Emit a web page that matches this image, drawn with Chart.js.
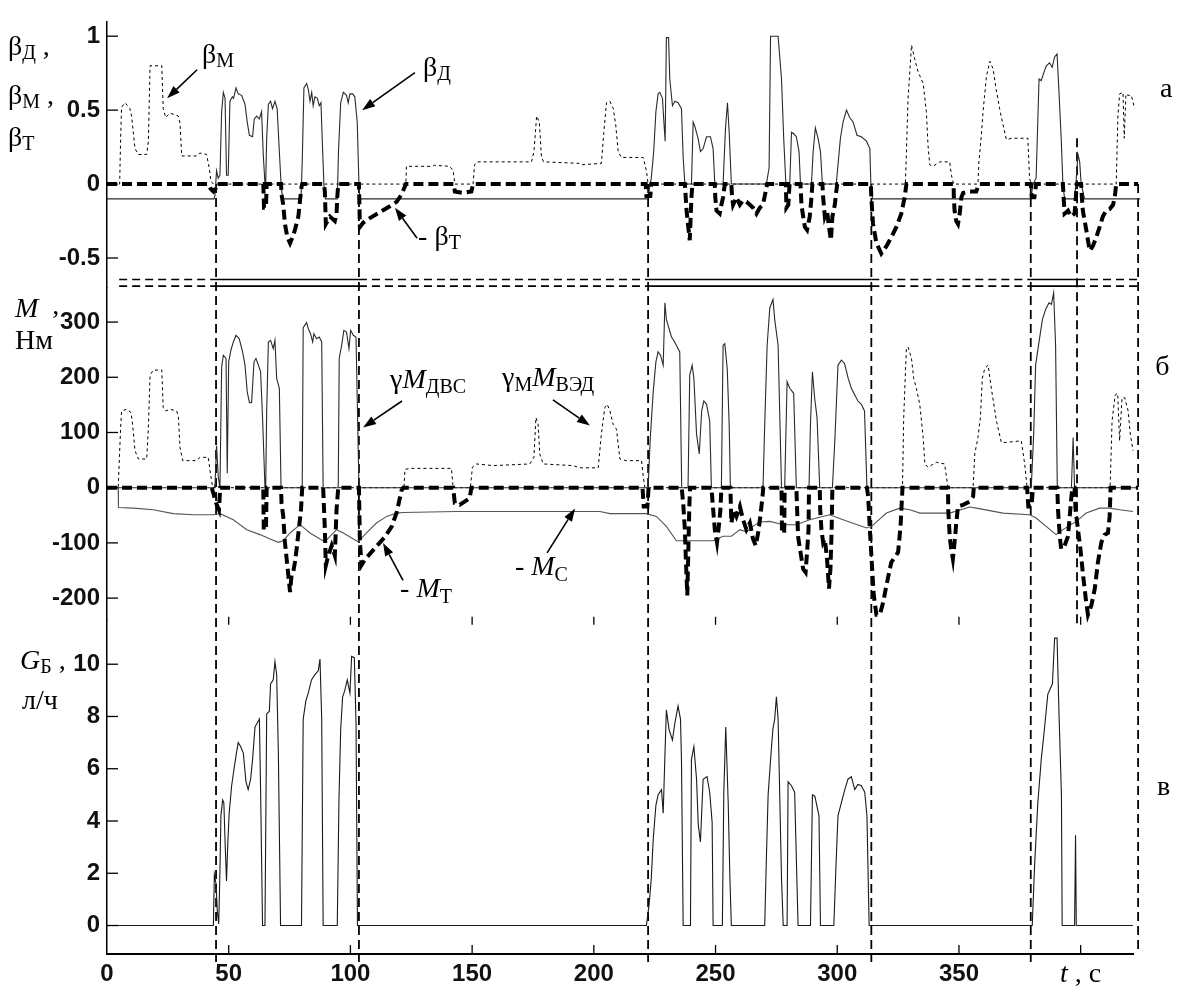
<!DOCTYPE html>
<html>
<head>
<meta charset="utf-8">
<script src="https://cdn.jsdelivr.net/npm/chart.js@4.4.1/dist/chart.umd.min.js"></script>
<style>
  html, body { margin: 0; padding: 0; background: #fff; }
  #wrap { width: 1177px; height: 986px; position: relative; }
</style>
</head>
<body>
<div id="wrap"><canvas id="chart"></canvas></div>
<script>
// ---- данные: [t, значение] ----
// панель а
const betaM = [[0,0],[5.2,0],[5.6,0.31],[6.0,0.52],[7.4,0.55],[9.4,0.51],[10.1,0.46],[11.5,0.24],[12.9,0.2],[16.3,0.2],[17.0,0.29],[17.7,0.8],[22.5,0.8],[23.1,0.51],[24.1,0.45],[25.9,0.48],[29.3,0.46],[30.0,0.41],[30.7,0.19],[36.8,0.19],[38.2,0.21],[40.9,0.2],[42.0,0.11],[42.7,0.02],[43.7,0],
  [122.8,0],[123.0,0.12],[133.7,0.12],[134.5,0.127],[140.8,0.12],[142.2,0.09],[142.9,0],
  [150.4,0],[151.0,0.13],[151.9,0.15],[174.4,0.15],[175.4,0.22],[176.5,0.46],[177.6,0.42],[178.5,0.18],[179.4,0.15],[194,0.14],[194.7,0.13],[203.1,0.14],[204.1,0.35],[205.2,0.55],[206.6,0.56],[208.0,0.51],[209.0,0.4],[210.0,0.22],[211.3,0.18],[220.3,0.18],[221.6,0.09],[222.3,0],
  [328.0,0],[329.1,0.58],[330.5,0.94],[331.9,0.84],[333.2,0.76],[335.3,0.68],[336.6,0.49],[337.3,0.26],[338.0,0.13],[339.3,0.12],[342.1,0.15],[346.2,0.15],[346.9,0.06],[347.8,0],
  [357.8,0],[358.2,0.15],[359.2,0.33],[359.9,0.49],[361.3,0.73],[362.7,0.83],[364.0,0.78],[365.3,0.64],[366.7,0.51],[368.1,0.4],[369.5,0.3],[371.6,0.31],[378.3,0.31],[379.0,0.04],[379.7,0],
  [414.6,0],[415.3,0.46],[416.0,0.61],[417.4,0.62],[417.9,0.31],[418.6,0.61],[419.4,0.6],[420.8,0.6],[422.2,0.51],[423.6,0.24],[424.5,0]];

const betaD = [[0,-0.1],[44.0,-0.1],[44.4,-0.07],[45.0,0.09],[45.7,0.04],[46.4,0.06],[47.1,0.49],[47.8,0.62],[48.5,0.58],[49.1,0.06],[49.8,0.06],[50.5,0.56],[51.5,0.59],[52.0,0.58],[53.0,0.65],[53.9,0.61],[55.3,0.6],[56.7,0.54],[57.6,0.42],[58.5,0.33],[59.8,0.32],[60.5,0.44],[61.5,0.46],[62.6,0.44],[63.5,0.49],[64.2,0.2],[64.9,0],[65.2,0],[65.6,0.31],[66.3,0.54],[67.2,0.56],[68.0,0.51],[69.0,0.56],[69.9,0.51],[70.8,0.22],[71.5,0],[72.1,-0.1],[79.7,-0.1],[80.2,0.15],[80.9,0.65],[82.0,0.68],[82.7,0.64],[83.4,0.56],[84.1,0.62],[84.7,0.53],[85.4,0.59],[86.4,0.58],[87.2,0.53],[87.9,0.55],[88.4,0.31],[89.1,0],[89.7,-0.1],[94.6,-0.1],[95.1,0.22],[96.0,0.55],[97.1,0.62],[98.4,0.6],[99.1,0.55],[99.8,0.61],[100.9,0.61],[101.8,0.59],[102.8,0.42],[103.5,0],[103.9,-0.1],
  [222.0,-0.1],[222.3,-0.08],[223.6,0.04],[224.6,0.22],[225.5,0.49],[226.4,0.61],[227.1,0.62],[228.2,0.58],[228.7,0.44],[229.3,0.29],[229.8,0.99],[230.7,0.99],[231.2,0.71],[232.3,0.53],[233.3,0.56],[234.6,0.55],[236.0,0.51],[236.7,0.18],[237.4,0],[240.1,0],[240.8,0.42],[241.5,0.39],[242.8,0.31],[243.8,0.22],[244.9,0.24],[246.3,0.32],[247.9,0.32],[249.0,0.24],[249.7,0],[253.1,0],[254.1,0.38],[254.9,0.55],[255.6,0.35],[256.5,0],[270.9,0],[272.0,0.11],[272.6,1.0],[275.7,1.0],[277.1,0.71],[278.0,0.31],[278.9,0],[280.5,0],[281.2,0.35],[282.1,0.34],[283.2,0.32],[284.3,0.22],[284.9,0],[289.4,0],[290.1,0.22],[291.0,0.38],[292.1,0.31],[293.1,0.22],[293.9,0],[299.6,0],[300.3,0.13],[301.3,0.31],[302.4,0.42],[303.8,0.5],[305.1,0.45],[306.5,0.42],[308.1,0.33],[309.9,0.32],[312.0,0.29],[313.4,0.24],[313.8,0],[314.5,-0.1],
  [379.5,-0.1],[380.4,0],[381.7,0.04],[382.9,0.71],[383.8,0.7],[384.8,0.75],[385.9,0.8],[387.2,0.82],[388.3,0.79],[389.3,0.86],[390.3,0.88],[391.1,0.62],[392.0,0.31],[392.7,0],[393.4,-0.1],[397.5,-0.1],[398.2,0.04],[398.9,0.2],[399.6,0.15],[400.2,0],[401.6,-0.1],[424.5,-0.1]];

const betaT = [[0,0],[41.6,0],[42.5,-0.03],[43.7,-0.05],[44.6,-0.03],[44.9,0],
  [64.2,0],[64.5,-0.16],[65.3,-0.16],[65.6,0],
  [71.5,0],[71.7,-0.07],[72.4,-0.14],[73.1,-0.27],[74.1,-0.36],[75.2,-0.4],[76.2,-0.36],[77.2,-0.31],[78.6,-0.22],[79.3,-0.11],[79.9,-0.02],[80.2,0],
  [89.1,0],[89.5,-0.05],[89.9,-0.27],[91.6,-0.22],[93.6,-0.25],[94.3,-0.2],[94.6,-0.09],[95.0,0],
  [103.5,0],[103.9,-0.29],[105.3,-0.26],[108.0,-0.23],[112.1,-0.19],[116.2,-0.15],[119.0,-0.12],[121.0,-0.07],[122.8,0],
  [142.5,0],[142.9,-0.05],[146.3,-0.06],[149.7,-0.05],[150.4,0],
  [221.3,0],[221.6,-0.08],[223.2,-0.08],[223.6,0],
  [237.4,0],[238.1,-0.18],[238.8,-0.29],[239.4,-0.38],[240.1,-0.09],[240.5,0],
  [249.7,0],[249.9,-0.09],[250.4,-0.18],[251.7,-0.2],[252.4,-0.14],[253.1,-0.09],[253.8,0],
  [256.5,0],[256.8,-0.09],[257.2,-0.14],[258.6,-0.09],[260.0,-0.14],[261.3,-0.11],[262.7,-0.12],[264.1,-0.14],[265.4,-0.16],[266.8,-0.2],[268.2,-0.16],[269.5,-0.14],[270.6,-0.05],[271.2,0],
  [278.9,0],[279.1,-0.16],[279.9,-0.14],[280.4,0],
  [284.9,0],[285.3,-0.14],[286.0,-0.22],[286.7,-0.29],[287.6,-0.31],[288.7,-0.22],[289.4,-0.09],[289.8,0],
  [293.9,0],[294.2,-0.09],[294.9,-0.22],[295.8,-0.18],[296.6,-0.29],[297.4,-0.38],[298.0,-0.22],[299.0,-0.14],[299.6,-0.05],[300.0,0],
  [313.8,0],[314.0,-0.09],[314.7,-0.27],[316.1,-0.4],[318.1,-0.47],[320.2,-0.42],[322.2,-0.36],[324.3,-0.29],[326.3,-0.2],[327.7,-0.09],[328.4,0],
  [347.8,0],[347.9,-0.09],[348.2,-0.18],[348.9,-0.25],[349.6,-0.27],[350.3,-0.2],[351.0,-0.09],[351.7,-0.06],[354.4,-0.05],[357.1,-0.05],[358.2,0],
  [379.5,0],[379.9,-0.09],[381.0,-0.09],[381.7,0],
  [392.7,0],[393.0,-0.09],[393.4,-0.2],[394.8,-0.18],[396.1,-0.22],[397.5,-0.2],[398.2,-0.05],[398.5,0],
  [400.2,0],[400.5,-0.09],[400.9,-0.18],[402.3,-0.31],[403.7,-0.45],[405.0,-0.42],[406.4,-0.36],[407.8,-0.29],[409.1,-0.22],[410.5,-0.18],[411.9,-0.17],[413.3,-0.14],[414.0,-0.09],[414.6,0],[423.6,0]];

// панель б
const mDvs = [[0,0],[44.0,0],[44.4,8],[45.0,76],[45.7,20],[46.4,0],[47.1,219],[47.8,240],[48.9,234],[49.4,26],[50.0,228],[50.9,249],[51.9,264],[53.0,276],[54.3,270],[55.7,246],[56.7,222],[57.6,174],[58.5,154],[59.4,154],[60.4,228],[61.2,234],[62.2,222],[63.1,210],[63.9,127],[64.9,0],[65.2,0],[65.6,139],[66.3,264],[67.2,267],[68.3,252],[69.0,267],[69.7,198],[70.8,180],[71.5,0],[80.2,0],[80.6,290],[82.0,299],[82.7,288],[83.6,279],[84.5,264],[85.0,279],[86.1,270],[87.2,273],[88.2,264],[88.8,0],[95.0,0],[95.4,234],[96.4,258],[97.3,285],[98.4,282],[99.4,252],[100.1,285],[101.2,276],[102.3,273],[102.9,139],[103.5,0],
  [222.3,0],[223.2,91],[224.4,174],[225.5,228],[226.4,246],[227.4,240],[228.5,222],[229.2,335],[229.8,305],[230.9,288],[231.9,273],[232.8,267],[233.9,258],[235.3,246],[236.1,0],[238.7,0],[239.4,204],[240.4,222],[241.1,198],[242.2,97],[243.3,61],[244.3,139],[245.2,157],[246.3,151],[247.6,121],[248.3,0],[252.4,0],[253.1,258],[253.8,261],[254.8,216],[255.6,115],[256.1,0],[269.5,0],[270.2,115],[271.2,258],[272.3,326],[273.6,341],[274.3,305],[275.7,258],[277.1,0],[278.4,0],[279.4,192],[280.5,180],[282.1,171],[283.2,0],[288.4,0],[289.0,115],[289.8,210],[290.7,163],[291.7,127],[292.8,0],[298.0,0],[299.0,85],[300.3,222],[301.7,231],[303.0,225],[304.5,198],[305.8,180],[307.2,168],[308.5,157],[309.9,151],[311.2,139],[312.2,0],
  [379.7,0],[380.7,97],[381.5,222],[382.9,264],[384.3,305],[385.6,323],[387.0,335],[388.0,332],[388.9,353],[389.7,258],[390.4,0],[396.2,0],[396.9,91],[397.5,0],[423.0,0]];

const mVed = [[0,0],[4.6,0],[5.6,109],[6.0,139],[8.1,142],[9.9,136],[10.5,115],[11.5,67],[12.9,52],[16.3,52],[17.0,109],[17.7,204],[19.0,213],[22.5,213],[23.1,145],[24.1,139],[25.9,142],[28.6,139],[29.3,130],[30.0,73],[31.1,49],[36.8,49],[38.2,55],[41.6,55],[42.3,32],[43.4,0],
  [122.0,0],[122.4,33],[124.4,35],[141.5,35],[142.2,0],[149.3,0],[150.1,37],[151.8,43],[158.6,40],[173.7,43],[175.4,55],[176.2,127],[177.1,115],[177.8,61],[179.2,43],[191.5,40],[194.2,36],[201.8,36],[203.1,97],[204.5,145],[205.5,151],[206.6,139],[207.9,115],[209.3,106],[210.7,52],[213.4,49],[219.6,49],[220.3,20],[221.0,0],
  [326.8,0],[327.3,127],[328.4,252],[329.1,255],[330.5,234],[331.4,198],[332.5,180],[333.9,151],[335.3,91],[336.0,43],[337.3,37],[340.7,46],[344.1,43],[345.5,0],[355.8,0],[356.5,61],[357.8,91],[358.8,127],[359.6,198],[360.6,216],[362.0,222],[363.3,180],[365.4,121],[367.4,82],[369.5,82],[375.6,85],[377.0,43],[378.0,0],
  [412.1,0],[412.9,121],[414.2,168],[415.2,171],[416.0,85],[417.0,163],[418.1,163],[419.5,139],[420.4,97],[421.5,67],[422.6,20],[422.9,0]];

const mT = [[0,0],[43.0,0],[43.7,-10],[44.8,-28],[46.0,-40],[46.5,0],
  [64.2,0],[64.4,-76],[65.3,-76],[65.6,0],
  [71.5,0],[71.7,-28],[72.4,-52],[73.1,-99],[73.8,-129],[74.5,-159],[75.2,-189],[75.8,-159],[76.5,-153],[77.2,-135],[77.9,-111],[78.8,-76],[79.7,-40],[80.2,0],
  [88.8,0],[89.5,-76],[89.9,-141],[90.9,-123],[92.3,-105],[93.6,-123],[94.3,-40],[95.0,0],
  [103.5,0],[103.9,-100],[104.6,-140],[106.0,-130],[110.0,-110],[114.0,-90],[117.0,-70],[119.0,-45],[121.0,-5],[121.7,0],
  [142.2,0],[142.9,-28],[144.9,-31],[149.0,-19],[149.7,0],
  [220.0,0],[220.5,-34],[222.0,-34],[222.5,0],
  [236.1,0],[236.7,-28],[237.4,-76],[237.8,-129],[238.4,-195],[239.2,-40],[239.5,0],
  [248.3,0],[248.6,-16],[249.7,-76],[250.6,-99],[251.5,-64],[252.0,-40],[252.4,0],
  [256.1,0],[256.5,-64],[257.5,-40],[258.6,-52],[260.0,-34],[261.3,-58],[262.7,-76],[264.1,-64],[265.4,-93],[266.5,-105],[267.5,-82],[268.4,-52],[269.3,-16],[269.6,0],
  [277.1,0],[277.3,-82],[278.2,-82],[278.4,0],
  [283.2,0],[283.9,-88],[284.9,-117],[286.0,-147],[287.0,-153],[287.6,-117],[288.2,-76],[288.4,0],
  [292.8,0],[293.0,-40],[293.5,-76],[294.2,-99],[294.9,-93],[295.8,-129],[296.6,-183],[297.2,-147],[297.7,-76],[298.0,0],
  [312.2,0],[312.7,-16],[313.4,-76],[314.1,-129],[315.0,-195],[316.1,-230],[317.5,-230],[318.9,-207],[320.2,-177],[322.2,-135],[325.0,-117],[326.0,-70],[326.8,0],
  [345.5,0],[345.6,-40],[346.2,-88],[346.8,-111],[347.5,-129],[348.2,-99],[348.9,-64],[349.6,-34],[351.7,-31],[354.4,-25],[355.8,-16],[356.1,0],
  [378.0,0],[378.5,-34],[379.8,-34],[380.4,0],
  [390.4,0],[390.7,-40],[391.4,-88],[392.0,-111],[393.4,-105],[394.8,-88],[395.5,-52],[396.2,-16],[396.6,0],
  [397.5,0],[397.9,-40],[398.9,-76],[399.9,-111],[401.0,-159],[402.1,-201],[403.0,-230],[404.4,-213],[405.8,-183],[407.1,-135],[408.5,-99],[409.9,-85],[411.2,-82],[411.9,-52],[412.3,0],[423.6,0]];

const mC = [[0,0],[4.6,0],[4.7,-36],[10.8,-37],[19.0,-40],[27.2,-47],[35.5,-49],[43.7,-49],[46.4,-47],[51.9,-58],[57.4,-76],[62.8,-85],[67.0,-93],[70.4,-99],[72.4,-96],[75.2,-82],[79.3,-67],[83.4,-82],[87.5,-93],[89.5,-98],[91.6,-88],[94.3,-76],[97.1,-82],[101.2,-93],[103.2,-98],[106.6,-82],[110.7,-64],[114.9,-52],[119.0,-46],[121.7,-45],[143.6,-43],[202.5,-43],[206.6,-47],[221.6,-47],[225.7,-52],[229.8,-70],[233.9,-96],[242.2,-96],[249.0,-96],[253.1,-88],[256.5,-88],[260.0,-76],[262.7,-80],[265.4,-70],[268.0,-62],[272.3,-61],[277.8,-67],[283.2,-67],[288.7,-58],[296.9,-49],[302.4,-58],[312.0,-73],[314.1,-70],[320.2,-46],[325.7,-37],[329.8,-40],[334.0,-46],[346.2,-46],[354.4,-35],[357.1,-37],[368.1,-46],[379.0,-49],[381.7,-55],[389.9,-85],[392.7,-76],[398.2,-61],[402.3,-46],[407.8,-37],[411.9,-37],[416.0,-40],[421.5,-43],[422.9,-40],[423.0,0]];

// панель в
const gB = [[0,0],[43.7,0],[44.1,1.95],[44.8,1.6],[45.3,0.57],[45.9,0.06],[46.4,2.1],[46.8,4.2],[47.5,4.8],[48.0,4.7],[48.6,2.95],[49.1,1.7],[49.6,3.1],[50.2,4.3],[51.2,5.35],[52.2,6.0],[53.0,6.5],[53.9,7.0],[54.9,6.85],[56.0,6.6],[57.1,5.5],[58.0,5.2],[59.0,5.6],[59.8,6.35],[60.8,7.6],[61.7,7.75],[62.6,7.9],[63.1,5.2],[63.9,0],[64.9,0],[65.6,8.1],[66.7,8.2],[67.2,9.25],[68.3,9.4],[69.0,10.1],[69.7,9.6],[70.4,6.6],[71.3,0],[79.9,0],[80.6,7.9],[81.7,8.6],[82.7,8.9],[84.0,9.4],[85.4,9.6],[86.8,9.75],[87.5,10.2],[88.2,7.9],[88.8,0],[94.6,0],[95.3,4.85],[96.0,7.5],[96.8,8.75],[97.7,9.0],[98.7,9.4],[99.8,8.9],[100.5,10.3],[101.6,10.25],[102.3,7.75],[102.9,0],
  [221.6,0],[222.7,0.8],[223.6,1.8],[224.4,3.3],[225.5,4.6],[226.4,5.0],[227.8,5.2],[228.5,4.3],[229.2,6.5],[229.8,8.25],[230.9,7.5],[232.3,7.1],[233.3,7.75],[234.6,8.4],[235.6,7.9],[236.0,6.35],[236.7,0],[239.7,0],[240.1,6.35],[241.1,6.85],[242.2,5.6],[242.9,3.85],[243.8,3.2],[244.9,5.6],[246.5,5.7],[247.6,5.1],[248.6,3.95],[249.0,0],[252.8,0],[253.4,5.1],[254.2,7.6],[255.2,4.7],[255.9,1.8],[256.5,0],[270.2,0],[270.9,2.6],[271.6,5.0],[273.0,6.85],[273.6,7.55],[274.3,7.9],[275.0,8.75],[275.7,7.9],[277.1,1.8],[277.8,0],[279.4,0],[279.8,5.5],[281.2,5.35],[282.5,5.1],[283.9,0],[289.0,0],[289.8,5.0],[290.8,4.95],[292.5,4.2],[293.1,0],[298.6,0],[299.4,2.1],[300.3,4.2],[301.7,4.7],[303.1,5.2],[304.4,5.6],[305.8,5.7],[307.2,5.2],[308.5,5.4],[309.9,5.35],[311.3,5.1],[312.2,4.2],[313.1,0],
  [380.1,0],[381.1,2.35],[382.4,4.7],[383.8,6.35],[385.1,7.5],[386.5,8.85],[388.4,9.25],[389.3,11.0],[390.3,11.0],[391.1,8.1],[392.1,5.0],[392.4,0],[397.5,0],[397.9,3.45],[398.2,0],[421.5,0]];

// режимы (ДВС вкл / выкл) и вертикальные границы
const modeSegments = [[5,44.8,'off'],[44.8,103.5,'on'],[103.5,222.3,'off'],[222.3,314,'on'],[314,379.5,'off'],[379.5,398.5,'on'],[398.5,423.6,'off']];
const modeLevels = [-0.645, -0.69];
const vLineT = [44.8, 103.5, 222.3, 314, 379.5, 398.5, 423.6];
const vLineTop = [0, 0, 0, 0, 0, 0.31, 0];        // на шкале панели а
const vLineBottom = [-1.4, -1.4, -1.4, -1.4, -1.4, 11.4, -1.0]; // на шкале панели в

// деления
const xTicks = [0, 50, 100, 150, 200, 250, 300, 350];
const xMinorTicks = [50, 100, 150, 200, 250, 300, 350, 400];
const yTicksA = [-0.5, 0, 0.5, 1];
const yTicksB = [-200, -100, 0, 100, 200, 300];
const yTicksC = [0, 2, 4, 6, 8, 10];

const SERIF = '"Liberation Serif", "DejaVu Serif", serif';
const SANS = '"Liberation Sans", Arial, sans-serif';
const BIG = `28px ${SERIF}`;
const SUB = `20px ${SERIF}`;
const ITB = `italic 28px ${SERIF}`;

// подписи: якорь в координатах шкал
const labels = [
  {axis:'yA', t:-40.7, v:0.873, parts:[['β',BIG],['Д',SUB,4],[' ,',BIG]]},
  {axis:'yA', t:-40.7, v:0.54, parts:[['β',BIG],['М',SUB,4],[' ,',BIG]]},
  {axis:'yA', t:-40.7, v:0.26, parts:[['β',BIG],['Т',SUB,4]]},
  {axis:'yB', t:-37.8, v:310, parts:[['M',ITB],['  ,',BIG,-3]]},
  {axis:'yB', t:-37.8, v:252, parts:[['Нм',BIG]]},
  {axis:'yC', t:-35.7, v:9.81, parts:[['G',ITB],['Б',SUB,4],[' ,',BIG]]},
  {axis:'yC', t:-34.9, v:8.3, parts:[['л/ч',BIG]]},
  {axis:'yA', t:39.0, v:0.82, parts:[['β',BIG],['М',SUB,4]]},
  {axis:'yA', t:129.8, v:0.733, parts:[['β',BIG],['Д',SUB,4]]},
  {axis:'yA', t:127.8, v:-0.413, parts:[['- ',BIG],['β',BIG],['Т',SUB,4]]},
  {axis:'yB', t:116.3, v:180, parts:[['γ',BIG],['M',ITB],['ДВС',SUB,5]]},
  {axis:'yB', t:162.3, v:184, parts:[['γ',BIG],['М',SUB,5],['M',ITB],['ВЭД',SUB,5]]},
  {axis:'yB', t:167.6, v:-159, parts:[['- ',BIG],['M',ITB],['С',SUB,6]]},
  {axis:'yB', t:120.4, v:-198, parts:[['- ',BIG],['M',ITB],['Т',SUB,6]]},
  {axis:'yA', t:432.6, v:0.587, parts:[['а',BIG]]},
  {axis:'yB', t:430.6, v:203.6, parts:[['б',BIG]]},
  {axis:'yC', t:431.4, v:4.98, parts:[['в',BIG]]},
  {axis:'yC', t:391.5, v:-2.15, parts:[['t',ITB],[' , с',BIG]]}
];

const arrows = [
  {axis:'yA', from:[37.0,0.773], to:[24.7,0.58]},
  {axis:'yA', from:[126.5,0.753], to:[104.8,0.5]},
  {axis:'yA', from:[127.4,-0.367], to:[118.3,-0.16]},
  {axis:'yB', from:[121.2,157], to:[105.2,109]},
  {axis:'yB', from:[183.2,159], to:[198.4,112.5]},
  {axis:'yB', from:[180.8,-118], to:[192.3,-37.5]},
  {axis:'yB', from:[121.6,-168], to:[113.4,-100]}
];

function pts(arr) {
  return arr.map(p => ({x: p[0], y: p[1]}));
}

function modeLine(kind, level) {
  const out = [];
  modeSegments.forEach(s => {
    if (s[2] !== kind) return;
    out.push({x: s[0], y: level}, {x: s[1], y: level}, {x: s[1], y: null});
  });
  return out;
}

function line(ctx, x1, y1, x2, y2) {
  ctx.beginPath();
  ctx.moveTo(x1, y1);
  ctx.lineTo(x2, y2);
  ctx.stroke();
}

function drawRich(ctx, x, y, parts) {
  let cx = x;
  parts.forEach(p => {
    ctx.font = p[1];
    ctx.fillText(p[0], cx, y + (p[2] || 0));
    cx += ctx.measureText(p[0]).width;
  });
}

function drawArrow(ctx, x1, y1, x2, y2) {
  const ang = Math.atan2(y2 - y1, x2 - x1);
  const head = 13, half = 4.5;
  const bx = x2 - head * Math.cos(ang), by = y2 - head * Math.sin(ang);
  ctx.lineWidth = 1.6;
  line(ctx, x1, y1, bx, by);
  ctx.beginPath();
  ctx.moveTo(x2, y2);
  ctx.lineTo(bx + half * Math.sin(ang), by - half * Math.cos(ang));
  ctx.lineTo(bx - half * Math.sin(ang), by + half * Math.cos(ang));
  ctx.closePath();
  ctx.fill();
}

const overlay = {
  id: 'overlay',
  beforeDatasetsDraw(chart) {
    const {ctx, scales} = chart;
    ctx.save();
    ctx.strokeStyle = '#000';
    ctx.lineWidth = 1.8;
    ctx.setLineDash([9, 5]);
    vLineT.forEach((t, i) => {
      const px = scales.x.getPixelForValue(t);
      line(ctx, px, scales.yA.getPixelForValue(vLineTop[i]), px, scales.yC.getPixelForValue(vLineBottom[i]));
    });
    ctx.restore();
  },
  afterDraw(chart) {
    const {ctx, scales} = chart;
    const x = scales.x;
    ctx.save();
    ctx.strokeStyle = '#000';
    ctx.fillStyle = '#000';
    ctx.lineWidth = 1.3;
    // внутренние засечки
    ['yA', 'yB', 'yC'].forEach(id => {
      const s = scales[id];
      s.ticks.forEach(tk => {
        const py = s.getPixelForValue(tk.value);
        line(ctx, x.left, py, x.left + 11, py);
      });
    });
    xMinorTicks.forEach(v => {
      const px = x.getPixelForValue(v);
      line(ctx, px, x.top, px, x.top - 9);
      line(ctx, px, scales.yC.top - 3, px, scales.yC.top + 5);
    });
    // подписи
    ctx.textBaseline = 'alphabetic';
    ctx.textAlign = 'left';
    labels.forEach(l => {
      drawRich(ctx, x.getPixelForValue(l.t), scales[l.axis].getPixelForValue(l.v), l.parts);
    });
    arrows.forEach(a => {
      const s = scales[a.axis];
      drawArrow(ctx, x.getPixelForValue(a.from[0]), s.getPixelForValue(a.from[1]),
        x.getPixelForValue(a.to[0]), s.getPixelForValue(a.to[1]));
    });
    ctx.restore();
  }
};

const tickFont = {family: SANS, size: 24, weight: 'bold'};

function yScale(weight, stackWeight, min, max, tickValues) {
  return {
    type: 'linear',
    position: 'left',
    stack: 'panels',
    stackWeight: stackWeight,
    weight: weight,
    min: min,
    max: max,
    grid: {display: false, drawTicks: false},
    border: {display: true, color: '#000', width: 1.5},
    ticks: {autoSkip: false, padding: 7, color: '#111', font: tickFont, callback: v => String(v)},
    afterBuildTicks(s) { s.ticks = tickValues.map(v => ({value: v})); },
    afterFit(s) { s.width = 107; }
  };
}

const common = {pointRadius: 0, tension: 0, fill: false, clip: false, borderJoinStyle: 'miter'};

new Chart(document.getElementById('chart'), {
  type: 'line',
  data: {
    datasets: [
      {...common, data: pts(betaT), yAxisID: 'yA', borderColor: '#000', borderWidth: 4, borderDash: [10, 5]},
      {...common, data: pts(betaD), yAxisID: 'yA', borderColor: '#2a2a2a', borderWidth: 1.1},
      {...common, data: pts(betaM), yAxisID: 'yA', borderColor: '#000', borderWidth: 1, borderDash: [3, 3]},
      {...common, data: modeLine('on', modeLevels[0]), yAxisID: 'yA', borderColor: '#000', borderWidth: 1.6},
      {...common, data: modeLine('on', modeLevels[1]), yAxisID: 'yA', borderColor: '#000', borderWidth: 1.6},
      {...common, data: modeLine('off', modeLevels[0]), yAxisID: 'yA', borderColor: '#000', borderWidth: 1.6, borderDash: [8, 5]},
      {...common, data: modeLine('off', modeLevels[1]), yAxisID: 'yA', borderColor: '#000', borderWidth: 1.6, borderDash: [8, 5]},
      {...common, data: pts(mT), yAxisID: 'yB', borderColor: '#000', borderWidth: 4, borderDash: [10, 5]},
      {...common, data: pts(mDvs), yAxisID: 'yB', borderColor: '#2a2a2a', borderWidth: 1.1},
      {...common, data: pts(mVed), yAxisID: 'yB', borderColor: '#000', borderWidth: 1, borderDash: [3, 3]},
      {...common, data: pts(mC), yAxisID: 'yB', borderColor: '#555', borderWidth: 1.1},
      {...common, data: pts(gB), yAxisID: 'yC', borderColor: '#1a1a1a', borderWidth: 1.1}
    ]
  },
  options: {
    responsive: true,
    maintainAspectRatio: false,
    animation: false,
    devicePixelRatio: 1,
    layout: {padding: {left: 0, right: 44, top: 8, bottom: 0}},
    plugins: {legend: {display: false}, tooltip: {enabled: false}},
    scales: {
      x: {
        type: 'linear',
        position: 'bottom',
        min: 0,
        max: 421.5,
        grid: {display: false, drawTicks: false},
        border: {display: true, color: '#000', width: 2},
        ticks: {
          autoSkip: false,
          maxRotation: 0,
          padding: 6,
          color: '#111',
          font: tickFont,
          callback: v => String(v)
        },
        afterBuildTicks(s) { s.ticks = xTicks.map(v => ({value: v})); },
        afterFit(s) { s.height = 32; }
      },
      yA: yScale(3, 270, -0.7, 1.1, yTicksA),
      yB: yScale(2, 337, -239.3, 362.5, yTicksB),
      yC: yScale(1, 339, -1.09, 11.7, yTicksC)
    }
  },
  plugins: [overlay]
});
</script>
</body>
</html>
